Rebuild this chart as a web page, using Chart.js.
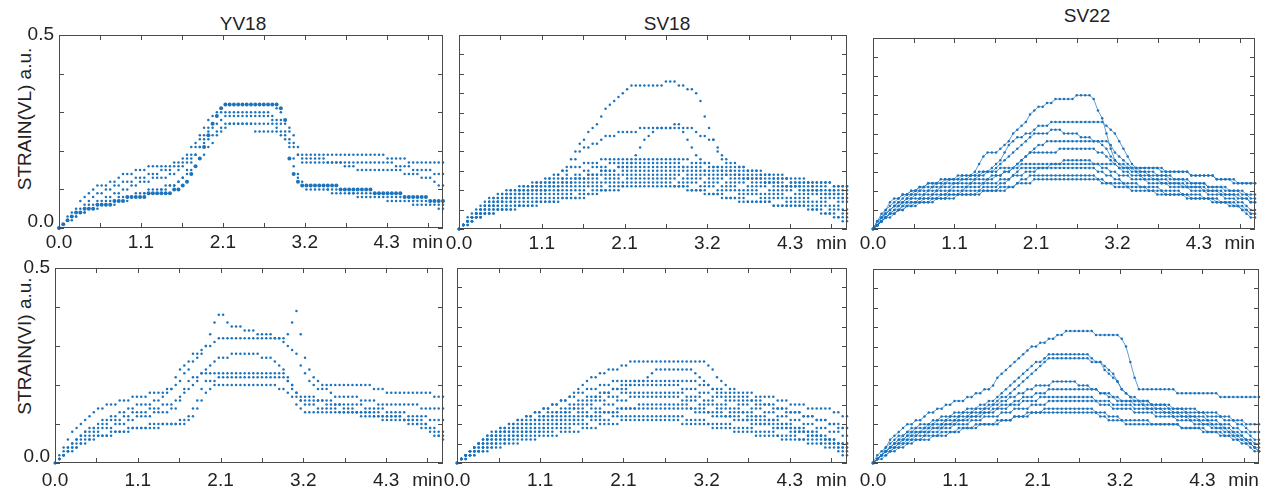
<!DOCTYPE html>
<html>
<head>
<meta charset="utf-8">
<script src="https://cdn.jsdelivr.net/npm/chart.js@4.4.1/dist/chart.umd.min.js"></script>
<style>
  body { margin: 0; background: #fff; }
  #wrap { position: relative; width: 1271px; height: 497px; overflow: hidden;
          font-family: "Liberation Sans", Arial, sans-serif; color: #222; }
  #wrap canvas { position: absolute; }
  .lbl { position: absolute; font-size: 19px; white-space: nowrap; transform: translate(-50%, -50%); }
  .ylbl { transform: translate(-50%, -50%) rotate(-90deg); }
</style>
</head>
<body>
<div id="wrap">
  <div class="lbl" style="left:243px;top:24px">YV18</div>
  <div class="lbl" style="left:667px;top:24px">SV18</div>
  <div class="lbl" style="left:1087px;top:16px">SV22</div>
  <div class="lbl ylbl" style="left:25px;top:119px">STRAIN(VL) a.u.</div>
  <div class="lbl ylbl" style="left:25px;top:346px">STRAIN(VI) a.u.</div>
</div>
<script>
// samples every 300/90 s, values are strain in 0.01 a.u.
const STEP = 300 / 90
const xTicks = [0, 32, 64, 96, 128, 160, 192, 224, 256, 288]

const yv18VL = [
  [0,1,3,4,5,7,8,9,10,11, 11,11,12,12,13,14,14,14,15,15, 15,16,16,16,16,16,16,17,17,18, 19,21,22,24,26,28,29,30,31,32, 32,32,32,32,32,32,32,32,32,32, 32,31,30,28,26,24,21,19,19,19, 19,19,19,19,19,19,19,19,19,19, 19,19,19,19,19,19,19,18,18,18, 18,18,17,17,17,17,17,17,17,17,17],
  [0,1,2,3,4,5,6,7,8,9, 9,10,10,11,11,12,12,12,13,13, 13,14,14,14,15,15,15,16,16,17, 18,19,21,23,24,26,27,29,30,30, 30,30,30,30,30,30,30,30,30,30, 29,28,28,27,25,22,19,18,18,18, 18,18,18,17,17,17,17,17,17,17, 17,17,17,17,17,17,17,17,17,16, 16,16,16,15,15,15,15,15,14,14,14],
  [0,1,2,3,4,4,5,6,6,7, 7,8,8,9,9,10,10,11,11,12, 12,12,13,13,13,13,14,14,15,16, 17,18,19,21,23,25,26,27,28,29, 29,29,29,29,29,29,29,29,29,29, 28,27,27,25,23,21,19,17,17,17, 17,17,17,17,17,17,17,16,16,16, 15,15,15,15,15,15,15,15,15,15, 15,14,14,14,14,13,13,13,12,11,11],
  [0,1,2,3,4,4,5,5,5,6, 6,6,6,7,7,7,8,8,8,8, 8,9,9,9,9,9,9,10,10,11, 12,14,16,18,21,24,27,29,31,32, 32,32,32,32,32,32,32,32,32,32, 32,32,31,28,18,14,12,11,11,11, 11,11,11,11,11,11,10,10,10,10, 10,10,10,10,9,9,9,9,9,9, 9,8,8,8,8,8,8,7,7,7,7],
  [0,1,2,2,3,4,4,5,5,5, 6,6,6,6,7,7,7,8,8,8, 9,9,9,9,10,10,11,11,12,13, 15,17,19,21,22,23,24,25,26,27, 27,27,27,27,27,27,27,27,27,27, 27,26,25,24,22,18,14,12,11,11, 11,11,11,10,10,10,10,10,9,9, 9,9,9,9,9,9,9,8,8,8, 8,8,8,7,7,7,7,7,7,6,6],
  [0,1,2,3,3,4,4,5,5,6, 6,7,7,7,8,8,8,8,9,9, 9,10,10,10,10,11,11,11,12,13, 14,15,16,18,19,21,22,24,25,26, 27,27,27,27,27,27,25,25,25,25, 25,25,24,23,21,16,13,11,10,10, 10,10,10,10,9,9,9,9,9,9, 8,8,8,8,8,8,8,7,7,7, 7,7,7,6,6,6,6,6,6,5,5]
]

const sv18VL = [
  [0,1,2,3,4,5,6,7,8,8, 9,9,10,10,10,11,11,11,12,12, 12,13,13,14,15,16,18,20,22,23, 25,26,27,29,31,32,33,34,35,36, 37,37,37,37,37,37,37,37,38,38, 38,37,37,36,36,35,33,29,26,23, 20,18,17,16,16,16,16,15,15,15, 15,14,14,14,14,14,13,13,13,13, 13,12,12,12,12,12,12,11,11,11,11],
  [0,1,2,3,4,5,6,6,7,7, 8,8,9,9,10,10,10,11,11,11, 12,12,12,13,13,14,16,18,20,21, 21,22,22,23,24,24,24,25,25,25, 25,25,26,26,26,26,26,26,26,26, 27,27,26,26,26,25,24,24,23,23, 21,19,18,17,17,16,16,15,15,15, 14,14,14,13,13,13,13,12,12,12, 12,12,11,11,11,11,10,10,10,10,10],
  [0,1,2,3,4,4,5,6,6,7, 7,8,8,8,9,9,9,10,10,10, 10,11,11,11,12,12,12,13,13,13, 14,14,14,15,15,15,15,16,16,16, 17,19,21,23,24,25,26,26,26,26, 26,26,25,23,21,19,18,17,16,16, 16,15,15,15,14,14,14,13,13,13, 13,12,12,12,12,11,11,11,11,11, 10,10,10,10,10,9,9,9,9,8,8],
  [0,1,3,4,5,6,7,8,8,9, 9,10,10,10,11,11,11,12,12,12, 13,13,14,14,15,15,16,16,16,17, 17,17,17,18,18,18,18,18,18,18, 18,18,18,18,18,18,18,18,18,18, 18,18,18,18,17,17,17,17,17,16, 16,16,16,15,15,15,15,14,14,14, 14,13,13,13,13,13,13,12,12,12, 12,12,12,12,12,12,12,11,11,11,11],
  [0,1,2,3,4,5,6,7,7,8, 8,9,9,9,10,10,10,11,11,11, 11,12,12,12,13,13,13,14,14,15, 15,16,16,16,16,17,17,17,17,17, 17,17,17,17,17,17,17,17,17,17, 17,17,16,16,16,16,16,15,15,15, 15,15,14,14,14,14,13,13,13,13, 13,12,12,12,12,12,11,11,11,11, 11,11,11,10,10,10,10,10,9,9,9],
  [0,1,2,3,4,4,5,6,6,7, 7,8,8,8,9,9,9,10,10,10, 10,11,11,11,12,12,12,13,13,13, 14,14,14,15,15,15,15,16,16,16, 16,16,16,16,16,16,16,16,16,16, 16,16,16,15,15,15,15,15,14,14, 14,14,14,13,13,13,13,13,12,12, 12,12,12,11,11,11,11,11,11,10, 10,10,10,10,9,9,9,9,8,8,8],
  [0,1,2,3,3,4,5,5,6,6, 7,7,7,8,8,8,9,9,9,9, 10,10,10,10,11,11,11,12,12,12, 13,13,13,14,14,14,14,14,15,15, 15,15,15,15,15,15,15,15,15,15, 15,15,15,14,14,14,14,14,13,13, 13,13,12,12,12,12,12,11,11,11, 11,11,10,10,10,10,10,10,9,9, 9,9,9,9,8,8,8,8,7,7,7],
  [0,1,2,2,3,4,4,5,5,6, 6,6,7,7,7,8,8,8,8,9, 9,9,9,10,10,10,10,11,11,11, 12,12,12,12,13,13,13,13,14,14, 14,14,14,14,14,14,14,14,14,14, 14,14,13,13,13,13,13,12,12,12, 12,11,11,11,11,10,10,10,10,10, 9,9,9,9,9,9,8,8,8,8, 8,8,7,7,7,7,6,6,6,5,5],
  [0,1,2,2,3,3,4,4,5,5, 5,6,6,6,6,7,7,7,7,8, 8,8,8,9,9,9,9,10,10,10, 11,11,11,11,12,12,12,12,12,13, 13,13,13,13,13,13,13,13,13,13, 13,12,12,12,12,12,11,11,11,11, 10,10,10,10,10,9,9,9,9,9, 8,8,8,8,8,8,7,7,7,7, 7,7,6,6,6,6,5,5,5,4,4],
  [0,1,1,2,3,3,4,4,4,5, 5,5,5,6,6,6,6,6,7,7, 7,7,7,8,8,8,8,8,9,9, 9,10,10,10,10,11,11,11,11,12, 12,12,12,12,12,12,12,12,12,12, 11,11,11,11,10,10,10,10,9,9, 9,9,8,8,8,8,8,7,7,7, 7,7,7,6,6,6,6,6,6,6, 6,6,5,5,5,4,4,4,3,3,3],
  [0,1,1,2,3,3,4,4,4,5, 5,5,5,5,6,6,6,6,6,7, 7,7,7,7,8,8,8,8,8,8, 9,9,9,10,10,10,10,10,11,11, 11,11,11,11,11,11,11,11,11,11, 11,11,11,10,10,10,10,9,9,9, 9,8,8,8,8,7,7,7,7,7, 7,7,7,6,6,6,6,6,6,6, 6,5,5,5,4,4,4,3,3,2,2]
]

const sv22VL = [
  [0,2,3,5,6,7,8,9,9,10, 10,11,11,12,12,12,12,13,13,13, 13,14,14,14,15,17,19,20,20,20, 21,22,23,25,26,27,28,30,31,32, 32,33,33,34,34,34,34,34,35,35, 35,35,34,31,29,25,21,18,17,17, 16,16,16,16,16,16,16,16,16,15, 15,15,15,15,15,14,14,14,14,14, 14,13,13,13,13,12,12,12,12,12,12],
  [0,2,3,4,5,6,7,8,9,9, 10,10,11,11,11,12,12,12,13,13, 13,13,13,14,14,14,15,15,16,17, 18,20,22,23,24,24,25,25,26,27, 27,27,28,28,28,28,28,28,28,28, 28,28,28,28,28,27,26,25,23,21, 19,17,16,15,15,15,15,14,14,14, 14,13,13,13,13,12,12,12,12,11, 11,11,11,10,10,10,10,9,9,8,8],
  [0,1,2,4,5,6,7,7,8,9, 9,10,10,10,11,11,11,12,12,12, 12,13,13,13,13,14,14,15,15,16, 17,18,19,20,21,22,23,24,25,25, 25,25,26,26,26,25,25,25,25,24, 24,24,23,23,22,21,19,18,17,16, 16,15,15,15,15,14,14,14,14,14, 13,13,13,13,12,12,12,12,12,11, 11,11,11,11,10,10,10,10,9,9,9],
  [0,1,3,4,5,6,6,7,8,8, 9,9,9,10,10,10,11,11,11,12, 12,12,12,12,13,13,13,13,14,14, 14,15,15,16,17,18,19,20,21,22, 22,23,23,23,23,23,23,23,23,23, 23,23,23,23,23,23,22,20,19,18, 17,16,15,14,14,14,13,13,13,13, 12,12,12,12,11,11,11,11,11,10, 10,10,10,9,9,9,9,8,8,7,7],
  [0,1,2,3,4,5,6,7,7,8, 8,8,9,9,9,10,10,10,10,11, 11,11,11,12,12,12,12,13,13,14, 14,15,15,16,17,18,19,20,20,20, 20,20,20,20,21,21,21,21,21,21, 21,21,21,20,20,19,18,17,16,15, 15,14,14,14,13,13,13,13,12,12, 12,12,12,11,11,11,11,11,10,10, 10,10,9,9,9,9,8,8,8,7,7],
  [0,1,2,3,4,5,5,6,7,7, 7,8,8,8,9,9,9,9,10,10, 10,10,11,11,11,11,12,12,12,12, 13,13,13,14,14,14,15,15,15,16, 16,16,17,17,17,18,18,18,18,18, 18,18,17,17,16,16,15,15,14,14, 14,13,13,13,13,12,12,12,12,12, 11,11,11,11,11,10,10,10,10,9, 9,9,9,8,8,8,7,7,6,5,5],
  [0,1,2,3,4,4,5,6,6,7, 7,7,8,8,8,8,9,9,9,9, 9,10,10,10,10,10,11,11,11,11, 12,12,13,14,15,16,16,16,16,16, 16,16,16,16,16,16,16,16,16,16, 16,16,16,15,15,14,14,13,13,12, 12,12,12,11,11,11,11,11,10,10, 10,10,10,9,9,9,9,9,8,8, 8,8,7,7,7,7,6,6,5,4,4],
  [0,1,2,3,4,4,5,5,6,6, 7,7,7,7,8,8,8,8,9,9, 9,9,9,9,9,10,10,10,10,10, 10,10,11,11,12,13,13,14,14,14, 14,14,14,14,14,14,14,14,14,14, 14,14,14,13,12,12,12,11,11,11, 11,10,10,10,10,10,10,9,9,9, 9,9,9,9,8,8,8,8,8,8, 7,7,7,7,6,6,6,5,4,3,3],
  [0,2,4,5,7,8,8,9,9,10, 10,11,11,12,12,12,13,13,13,13, 14,14,14,14,14,15,15,15,15,15, 16,16,16,16,16,17,17,17,17,17, 17,17,17,17,17,17,17,17,17,17, 17,17,17,17,17,17,17,17,16,16, 16,16,16,16,16,16,16,16,15,15, 15,15,15,15,15,14,14,14,14,14, 14,13,13,13,13,13,12,12,12,12,12],
  [0,1,2,3,3,4,5,5,6,6, 6,7,7,7,7,8,8,8,8,8, 9,9,9,9,9,9,10,10,10,10, 11,11,11,11,12,12,12,12,13,13, 13,13,13,13,13,13,13,13,13,13, 13,13,13,13,13,12,12,12,12,12, 11,11,11,11,11,10,10,10,10,9, 9,9,9,9,9,8,8,8,8,8, 8,7,7,7,7,6,6,5,5,4,4]
]

const yv18VI = [
  [0,2,4,6,8,9,10,11,12,13, 14,14,15,15,15,16,16,16,17,17, 17,17,18,18,18,18,19,19,20,21, 23,24,26,27,28,30,33,36,38,38, 36,35,35,35,34,34,34,33,33,33, 33,32,32,32,33,36,39,33,27,24, 22,21,20,20,20,20,20,20,20,20, 20,20,20,20,19,19,19,18,18,18, 18,18,18,18,18,18,18,18,17,17,17],
  [0,1,3,4,5,6,7,8,9,9, 10,11,11,12,12,13,13,14,14,15, 15,15,15,16,16,17,18,19,22,24, 25,26,28,28,29,30,30,31,32,32, 32,32,32,32,32,32,32,32,32,32, 32,32,32,31,30,29,28,25,23,21, 20,19,19,19,18,17,17,17,17,17, 17,16,16,16,16,15,15,15,15,15, 15,15,15,15,15,14,14,14,14,14,14],
  [0,1,2,4,5,6,7,8,8,9, 9,10,10,11,11,11,12,12,13,13, 13,13,14,14,14,15,15,15,16,17, 18,19,20,21,23,24,25,26,27,27, 27,28,28,28,28,28,28,28,27,27, 27,26,25,24,22,20,18,17,17,17, 17,16,16,16,16,15,15,15,15,15, 15,15,14,14,14,14,14,13,13,13, 13,13,12,12,12,12,12,11,11,11,11],
  [0,1,2,3,4,5,6,7,7,8, 8,9,9,9,10,10,10,11,11,12, 12,12,12,13,13,13,13,14,14,16, 19,21,22,22,23,23,23,23,23,23, 23,23,23,23,23,23,23,23,23,23, 23,23,23,23,21,19,17,16,16,16, 16,16,16,15,15,15,15,14,14,14, 13,13,13,13,13,13,12,12,12,12, 12,11,11,11,10,10,10,9,9,8,8],
  [0,1,2,3,3,4,5,5,6,6, 7,7,7,8,8,8,8,9,9,9, 9,9,10,10,10,10,10,10,10,11, 11,12,14,16,19,21,21,21,22,22, 22,22,22,22,22,22,22,22,22,22, 22,22,22,22,21,20,18,16,15,15, 15,14,14,14,14,14,13,13,13,13, 13,12,12,12,12,12,11,11,11,11, 11,11,10,10,10,9,9,8,7,7,7],
  [0,1,2,3,4,4,5,6,6,7, 7,7,7,7,8,8,8,8,9,9, 9,9,9,9,9,10,10,10,10,10, 10,11,12,14,16,18,19,20,20,20, 20,20,20,20,20,20,20,20,20,20, 20,20,19,19,18,17,15,14,13,13, 13,13,13,13,13,13,13,13,13,13, 13,13,13,13,12,12,12,12,12,12, 12,11,11,11,11,11,10,9,8,7,6]
]

const sv18VI = [
  [0,1,2,3,4,5,6,7,7,8, 9,9,10,10,11,11,12,12,13,13, 14,14,15,15,16,16,17,18,19,20, 21,22,22,23,23,24,24,24,25,25, 26,26,26,26,26,26,26,26,26,26, 26,26,26,26,26,26,26,26,25,24, 22,21,20,19,19,18,18,18,18,17, 17,17,17,17,16,16,16,15,15,15, 15,14,14,14,14,14,14,13,13,12,12],
  [0,1,2,3,4,5,5,6,7,7, 8,8,8,9,9,10,10,10,11,11, 12,12,12,13,13,13,14,14,15,15, 16,16,17,17,18,18,19,19,20,20, 20,21,21,21,22,23,24,24,24,24, 24,24,24,24,24,23,22,21,20,19, 18,18,17,17,17,16,16,16,16,15, 15,15,15,14,14,14,13,13,13,13, 12,12,12,11,11,11,10,10,9,9,9],
  [0,1,2,3,4,5,6,7,8,8, 9,9,10,10,11,11,12,12,13,13, 14,14,15,15,16,16,17,17,18,18, 19,19,19,20,20,20,21,21,21,21, 21,21,21,21,21,21,21,21,21,21, 21,21,21,21,21,21,20,20,20,19, 19,19,18,18,18,17,17,17,16,16, 16,15,15,15,14,14,14,13,13,13, 12,12,12,11,11,11,10,10,10,9,9],
  [0,1,2,3,4,5,5,6,7,7, 8,8,9,9,10,10,11,11,11,12, 12,13,13,13,14,14,15,15,16,16, 17,17,17,18,18,18,19,19,19,19, 20,20,20,20,20,20,20,20,20,20, 20,20,19,19,19,19,18,18,18,17, 17,17,16,16,16,15,15,15,14,14, 14,13,13,13,12,12,12,11,11,11, 10,10,10,9,9,9,8,8,8,7,7],
  [0,1,2,3,3,4,5,6,6,7, 7,8,8,8,9,9,10,10,10,11, 11,11,12,12,12,13,13,14,14,14, 15,15,16,16,16,17,17,17,18,18, 18,18,18,18,18,18,18,18,18,18, 18,18,18,17,17,17,17,16,16,16, 15,15,15,14,14,14,13,13,13,12, 12,12,11,11,11,10,10,10,9,9, 9,8,8,8,7,7,6,6,5,5,5],
  [0,1,2,2,3,4,4,5,6,6, 7,7,7,8,8,8,9,9,9,10, 10,10,11,11,11,12,12,12,13,13, 13,14,14,14,15,15,15,16,16,16, 17,17,17,17,17,17,17,17,17,17, 17,17,16,16,16,16,15,15,15,15, 14,14,14,13,13,13,13,12,12,12, 11,11,11,11,10,10,10,9,9,9, 8,8,8,7,7,6,6,5,5,4,4],
  [0,1,1,2,3,3,4,4,5,5, 6,6,6,7,7,7,8,8,8,8, 9,9,9,10,10,10,10,11,11,11, 12,12,12,12,13,13,13,13,14,14, 14,14,15,15,15,15,15,15,15,15, 15,15,15,15,14,14,14,14,13,13, 13,13,12,12,12,12,11,11,11,11, 10,10,10,10,9,9,9,9,8,8, 8,7,7,7,6,6,5,5,4,3,3],
  [0,1,2,2,3,3,4,5,5,6, 6,6,7,7,7,8,8,8,9,9, 9,10,10,10,11,11,11,11,12,12, 12,12,13,13,13,13,13,14,14,14, 14,14,14,14,14,14,14,14,14,14, 14,14,14,14,14,13,13,13,13,12, 12,12,12,12,11,11,11,11,10,10, 10,10,10,9,9,9,9,8,8,8, 8,7,7,7,7,6,6,6,5,5,5],
  [0,1,1,2,2,3,3,4,4,5, 5,5,6,6,6,7,7,7,7,8, 8,8,8,9,9,9,9,10,10,10, 10,11,11,11,11,11,12,12,12,12, 12,12,12,12,12,12,12,12,12,12, 12,12,12,11,11,11,11,11,10,10, 10,10,10,10,9,9,9,9,9,8, 8,8,8,8,7,7,7,7,7,6, 6,6,6,6,5,5,5,5,4,4,4],
  [0,1,1,2,2,3,3,3,4,4, 4,5,5,5,5,6,6,6,6,7, 7,7,7,7,8,8,8,8,8,9, 9,9,9,10,10,10,10,10,11,11, 11,11,11,11,11,11,11,11,11,11, 11,11,10,10,10,10,10,10,10,9, 9,9,9,9,8,8,8,8,8,7, 7,7,7,7,7,6,6,6,6,6, 6,5,5,5,5,4,4,4,3,2,2]
]

const sv22VI = [
  [0,2,3,4,6,7,8,9,10,10, 11,11,12,13,13,14,14,15,15,16, 16,16,17,17,18,18,19,19,20,22, 23,24,25,26,27,28,29,30,30,31, 31,32,32,33,33,34,34,34,34,34, 34,34,33,33,33,33,33,33,32,30, 26,22,19,19,19,19,19,19,19,19, 19,18,18,18,18,18,18,18,18,18, 18,17,17,17,17,17,17,17,17,17,17],
  [0,1,2,4,5,6,7,7,8,9, 9,10,10,10,11,11,12,12,12,13, 13,13,14,14,14,15,15,16,16,17, 18,19,20,21,22,23,24,25,26,26, 27,28,28,28,28,28,28,28,28,28, 28,27,26,26,25,24,23,21,19,18, 17,17,16,16,16,15,15,15,15,14, 14,14,14,13,13,13,13,13,12,12, 12,12,11,11,11,10,10,9,8,8,8],
  [0,1,2,3,4,5,6,7,8,8, 9,9,9,10,10,11,11,11,12,12, 12,13,13,13,14,14,14,15,15,16, 17,17,18,19,20,21,22,23,24,25, 26,27,27,27,27,27,27,27,27,27, 27,26,26,26,24,23,22,21,19,18, 17,16,16,15,15,15,14,14,14,14, 13,13,13,13,12,12,12,12,11,11, 11,10,10,10,9,9,8,8,7,6,6],
  [0,1,2,3,4,5,6,6,7,8, 8,8,9,9,10,10,10,11,11,11, 12,12,12,13,13,13,14,14,15,15, 16,16,17,17,18,18,19,19,20,20, 20,20,21,21,21,21,21,21,20,20, 20,19,19,18,18,17,17,16,16,16, 16,16,16,16,16,15,15,15,15,15, 14,14,14,14,14,14,13,13,13,13, 13,12,12,12,11,11,11,10,10,10,10],
  [0,1,2,3,4,5,5,6,7,7, 8,8,8,9,9,9,10,10,10,11, 11,11,12,12,12,13,13,13,14,14, 15,15,15,16,16,17,17,17,18,18, 18,19,19,19,19,19,19,19,19,19, 19,19,19,18,18,18,17,17,16,16, 16,15,15,15,14,14,14,14,13,13, 13,13,12,12,12,12,11,11,11,10, 10,10,9,9,8,8,7,6,6,5,5],
  [0,1,2,3,4,4,5,6,6,7, 7,8,8,8,9,9,9,10,10,10, 11,11,11,12,12,12,13,13,13,14, 14,14,15,15,15,16,16,16,16,17, 17,17,17,17,17,17,17,17,17,17, 17,17,16,16,16,16,15,15,15,15, 15,14,14,14,14,14,13,13,13,13, 12,12,12,12,11,11,11,10,10,10, 9,9,9,8,8,7,7,6,5,4,4],
  [0,1,2,3,3,4,5,5,6,6, 7,7,7,8,8,8,9,9,9,10, 10,10,10,11,11,11,12,12,12,12, 13,13,13,14,14,14,14,15,15,15, 15,16,16,16,16,16,16,16,16,16, 16,16,16,15,15,15,14,14,14,14, 14,13,13,13,13,13,12,12,12,12, 12,11,11,11,11,10,10,10,10,9, 9,9,8,8,7,7,6,6,5,4,3],
  [0,1,2,2,3,4,4,5,5,6, 6,6,7,7,7,7,8,8,8,8, 9,9,9,9,10,10,10,10,10,11, 11,11,11,12,12,12,13,13,13,13, 14,14,14,14,14,14,14,14,14,14, 14,14,13,12,12,11,11,11,11,10, 10,10,10,10,10,10,10,10,10,10, 10,10,9,9,9,9,9,9,8,8, 8,8,7,7,7,6,6,5,5,4,3],
  [0,1,1,2,3,3,4,4,5,5, 6,6,6,6,7,7,7,7,8,8, 8,9,9,9,9,10,10,10,10,10, 11,11,11,12,12,12,12,13,13,13, 13,13,13,13,13,13,13,13,13,13, 13,13,13,13,13,12,12,12,11,11, 11,11,11,11,11,10,10,10,10,10, 10,10,9,9,9,9,9,8,8,8, 8,7,7,7,6,6,5,5,4,3,3]
]

const BLUE = '#1b73be'
const FONT = '"Liberation Sans", Arial, sans-serif'
const AX_W = 60, AX_H = 40, PAD_T = 12, PAD_R = 30

// box: plot area left, top, width, height
const panels = [
  {curves: yv18VL, box: [59, 35, 384, 193], yLabels: true,  joined: false, pad: 3, big: 3},
  {curves: sv18VL, box: [459, 35, 388, 194], yLabels: false, joined: false, pad: 3},
  {curves: sv22VL, box: [873, 38, 382, 191], yLabels: false, joined: true,  pad: 3},
  {curves: yv18VI, box: [55, 268, 388, 195], yLabels: true,  joined: false, pad: 6},
  {curves: sv18VI, box: [457, 268, 390, 195], yLabels: false, joined: false, pad: 6},
  {curves: sv22VI, box: [873, 269, 386, 194], yLabels: false, joined: true,  pad: 6}
]

// box frame with inward tick marks on all four sides
const frame = {
  id: 'frame',
  afterDatasetsDraw(chart) {
    const {ctx, chartArea: a, scales: {x, y}} = chart
    ctx.save()
    ctx.strokeStyle = '#4a4a4a'
    ctx.lineWidth = 1
    ctx.strokeRect(a.left + 0.5, a.top + 0.5, a.width - 1, a.height - 1)
    ctx.beginPath()
    x.ticks.forEach(t => {
      const px = Math.round(x.getPixelForValue(t.value)) + 0.5
      ctx.moveTo(px, a.bottom); ctx.lineTo(px, a.bottom - 5)
      ctx.moveTo(px, a.top); ctx.lineTo(px, a.top + 5)
    })
    y.ticks.forEach(t => {
      const py = Math.round(y.getPixelForValue(t.value)) + 0.5
      ctx.moveTo(a.left, py); ctx.lineTo(a.left + 5, py)
      ctx.moveTo(a.right, py); ctx.lineTo(a.right - 5, py)
    })
    ctx.stroke()
    ctx.restore()
  }
}

const wrap = document.getElementById('wrap')
panels.forEach(p => {
  const [l, t, w, h] = p.box
  const cv = document.createElement('canvas')
  cv.width = w + AX_W + PAD_R
  cv.height = h + PAD_T + AX_H
  cv.style.left = (l - AX_W) + 'px'
  cv.style.top = (t - PAD_T) + 'px'
  wrap.appendChild(cv)

  new Chart(cv, {
    type: 'scatter',
    data: {
      datasets: p.curves.map((c, k) => ({
        data: c.map((v, i) => ({x: i * STEP, y: v / 100})),
        backgroundColor: BLUE,
        borderColor: BLUE,
        pointRadius: p.big === k ? 2 : 1.25,
        pointBorderWidth: 0,
        pointHoverRadius: 0,
        showLine: p.joined,
        borderWidth: 0.7,
        clip: 3
      }))
    },
    options: {
      responsive: false,
      animation: false,
      events: [],
      layout: {padding: {left: 0, top: PAD_T, right: PAD_R, bottom: 0}},
      plugins: {legend: {display: false}, tooltip: {enabled: false}},
      scales: {
        x: {
          type: 'linear', min: 0, max: 300,
          grid: {display: false, drawTicks: false},
          border: {display: false},
          afterBuildTicks: s => { s.ticks = xTicks.map(v => ({value: v})) },
          afterFit: s => { s.height = AX_H },
          ticks: {
            autoSkip: false, maxRotation: 0, padding: p.pad, color: '#222',
            font: {size: 19, family: FONT},
            callback: v => v === 288 ? 'min' : (v % 64 === 0 ? (v / 60).toFixed(1) : '')
          }
        },
        y: {
          min: 0, max: 0.5,
          grid: {display: false, drawTicks: false},
          border: {display: false},
          afterFit: s => { s.width = AX_W },
          ticks: {
            stepSize: 0.05, padding: 5, color: '#222',
            font: {size: 19, family: FONT, lineHeight: 0.7},
            callback: v => {
              if (!p.yLabels) return ''
              const r = Math.round(v * 100)
              // the bottom label sits a little above the axis line
              return r === 0 ? ['0.0', ''] : r === 50 ? '0.5' : ''
            }
          }
        }
      }
    },
    plugins: [frame]
  })
})
</script>
</body>
</html>
